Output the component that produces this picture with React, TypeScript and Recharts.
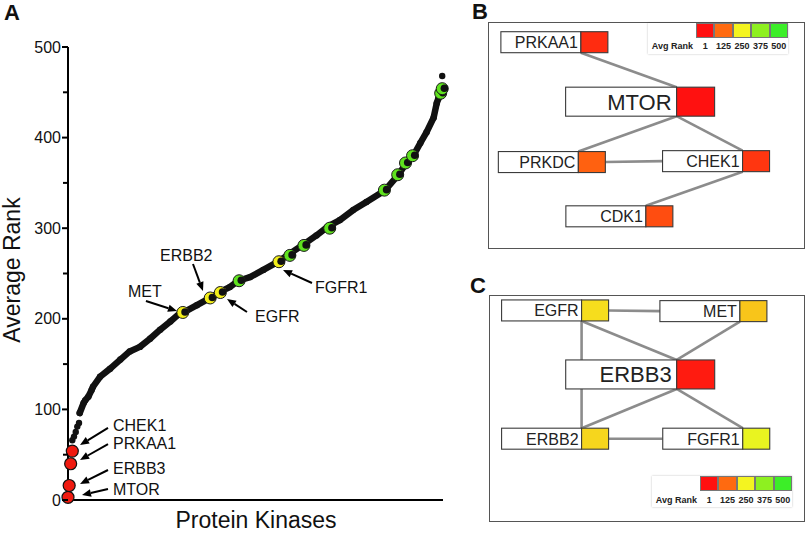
import { ScatterChart, Scatter, XAxis, YAxis, ReferenceLine } from 'recharts';

const FONT = '"Liberation Sans", Arial, Helvetica, sans-serif';

// --- panel A: kinases ordered by average rank ---
const curveIdx = [15, 20, 22, 26, 30, 32, 41, 54, 67, 79, 92, 105, 118, 131, 143, 148, 165, 182, 195, 207, 218, 233, 250, 269, 284, 303, 318, 333, 348, 365, 382, 406, 423, 433, 442, 451, 459, 468, 472, 474, 478];
const curveRank = [96, 107, 110, 114, 121, 125, 136, 145, 155, 164, 169, 178, 188, 197, 206, 207, 215, 223, 230, 235, 242, 246, 254, 263, 272, 283, 292, 302, 309, 320, 329, 342, 359, 372, 380, 394, 406, 422, 438, 443, 453];
const strayIdx = [5.5, 7.7, 9.9, 11.9, 14.1, 479];
const strayRank = [66, 70, 75, 81, 85, 468];

const topNames = ['MTOR', 'ERBB3', 'PRKAA1', 'CHEK1'];
const topIdx = [0, 1.5, 3.4, 5.5];
const topRank = [3, 16, 40, 54];

const hitIdx = [147, 182, 195, 219, 270, 284, 302, 335, 405, 422, 432, 441, 477, 479];
const hitRank = [207, 223, 229, 242, 263, 270, 281, 300, 342, 359, 372, 380, 449, 454];
const hitGroup = ['y', 'y', 'y', 'g', 'y', 'g', 'g', 'g', 'g', 'g', 'g', 'g', 'g', 'g'];

const rankTicks = [0, 50, 100, 150, 200, 250, 300, 350, 400, 450, 500];

// label anchor, arrow tail and arrow head (data units)
const notes = [
  { name: 'MET', tx: 76.8, ty: 229.6, ax: 99.8, ay: 219.6, hx: 139.5, hy: 208.6 },
  { name: 'ERBB2', tx: 117.8, ty: 270.4, ax: 160, ay: 260.5, hx: 172.8, hy: 230.7 },
  { name: 'EGFR', tx: 239.4, ty: 202, ax: 229.1, ay: 207.5, hx: 203.5, hy: 221.9 },
  { name: 'FGFR1', tx: 316.2, ty: 235, ax: 312.3, ay: 239.5, hx: 275.2, hy: 253.9 },
  { name: 'CHEK1', tx: 57.6, ty: 81.7, ax: 51.2, ay: 79.5, hx: 15.4, hy: 60.7 },
  { name: 'PRKAA1', tx: 57.6, ty: 62.9, ax: 51.2, ay: 61.8, hx: 15.4, hy: 44.2 },
  { name: 'ERBB3', tx: 57.6, ty: 35.3, ax: 51.2, ay: 33.1, hx: 15.4, hy: 17.7 },
  { name: 'MTOR', tx: 57.6, ty: 12.1, ax: 51.2, ay: 12.1, hx: 17.9, hy: 5.5 },
];

// --- panels B / C: interaction networks ---
const legendStops = [1, 125, 250, 375, 500];
const legendColors = ['#ff1010', '#ff6a10', '#f4f420', '#8ef020', '#3cee28'];

const mtorNodes = [
  { name: 'PRKAA1', rank: 40, x: 29.3, y: 8.9, hub: false },
  { name: 'MTOR', rank: 3, x: 59.5, y: 35.1, hub: true },
  { name: 'PRKDC', rank: 112, x: 28.5, y: 61.7, hub: false },
  { name: 'CHEK1', rank: 54, x: 80.3, y: 61.3, hub: false },
  { name: 'CDK1', rank: 85, x: 49.8, y: 85.6, hub: false },
];
const mtorEdges = [
  ['PRKAA1', 'MTOR', 'bottom', 'top'],
  ['MTOR', 'PRKDC', 'bottom', 'top'],
  ['MTOR', 'CHEK1', 'bottom', 'top'],
  ['PRKDC', 'CHEK1', 'right', 'left'],
  ['CHEK1', 'CDK1', 'bottom', 'top'],
];

const erbbNodes = [
  { name: 'EGFR', rank: 229, x: 29.3, y: 6.8, hub: false },
  { name: 'MET', rank: 207, x: 79.4, y: 7.1, hub: false },
  { name: 'ERBB3', rank: 16, x: 59.4, y: 35.0, hub: true },
  { name: 'ERBB2', rank: 223, x: 29.3, y: 63.3, hub: false },
  { name: 'FGFR1', rank: 263, x: 80.3, y: 63.3, hub: false },
];
const erbbEdges = [
  ['EGFR', 'MET', 'right', 'left'],
  ['EGFR', 'ERBB2', 'bottom', 'top'],
  ['EGFR', 'ERBB3', 'bottom', 'top'],
  ['MET', 'ERBB3', 'bottom', 'top'],
  ['ERBB3', 'ERBB2', 'bottom', 'top'],
  ['ERBB3', 'FGFR1', 'bottom', 'top'],
  ['ERBB2', 'FGFR1', 'right', 'left'],
];

const hexRgb = (h: string) => [1, 3, 5].map((i) => parseInt(h.slice(i, i + 2), 16));
const rankColor = (r: number) => {
  let i = 0;
  while (i < legendStops.length - 2 && r > legendStops[i + 1]) i++;
  const t = Math.min(1, Math.max(0, (r - legendStops[i]) / (legendStops[i + 1] - legendStops[i])));
  const a = hexRgb(legendColors[i]);
  const b = hexRgb(legendColors[i + 1]);
  const c = a.map((v, k) => Math.round(v + (b[k] - v) * t));
  return `rgb(${c[0]},${c[1]},${c[2]})`;
};

const RankTick = (p: any) => {
  const v = p.payload.value;
  const major = v % 100 === 0;
  return (
    <g>
      <line x1={p.x - (major ? 6 : 5)} x2={p.x} y1={p.y} y2={p.y} stroke="#000" strokeWidth={2} />
      {major && (
        <text x={p.x - 7} y={p.y} textAnchor="end" dominantBaseline="central" fontSize={16} fontFamily={FONT} fill="#111">
          {v}
        </text>
      )}
    </g>
  );
};

const Arrow = (p: any) => {
  const { x1, y1, x2, y2 } = p;
  const a = Math.atan2(y2 - y1, x2 - x1);
  const L = 9;
  const W = 3.8;
  const bx = x2 - L * Math.cos(a);
  const by = y2 - L * Math.sin(a);
  const pts = `${x2},${y2} ${bx - W * Math.sin(a)},${by + W * Math.cos(a)} ${bx + W * Math.sin(a)},${by - W * Math.cos(a)}`;
  return (
    <g>
      <line x1={x1} y1={y1} x2={bx} y2={by} stroke="#000" strokeWidth={2} />
      <polygon points={pts} fill="#000" />
    </g>
  );
};

const NoteText = (p: any) => (
  <text x={p.cx} y={p.cy} dominantBaseline="central" fontSize={16} fontFamily={FONT} fill="#111">
    {p.payload.name}
  </text>
);

const CurveDot = (p: any) => <circle cx={p.cx} cy={p.cy} r={3.2} fill="#111" />;

const HitDot = (p: any) => (
  <g>
    <circle cx={p.cx} cy={p.cy} r={6} fill={p.payload.group === 'y' ? '#f2ee1a' : '#5fe21e'} stroke="#1a1a1a" strokeWidth={1} />
    <circle cx={p.cx + 2.2} cy={p.cy - 0.5} r={3.8} fill="#111" />
  </g>
);

const TopDot = (p: any) => <circle cx={p.cx} cy={p.cy} r={6} fill="#f01a10" stroke="#111" strokeWidth={1.2} />;

const boxSize = (hub: boolean) => (hub ? { h: 29, w: 111, c: 38 } : { h: 21, w: 80, c: 27 });

const portOffset = (n: any, port: string) => {
  const s = boxSize(n.hub);
  if (port === 'top') return [0, -s.h / 2];
  if (port === 'bottom') return [0, s.h / 2];
  if (port === 'left') return [-s.w, 0];
  return [s.c, 0];
};

const NodeBox = (p: any) => {
  const n = p.payload;
  const s = boxSize(n.hub);
  return (
    <g>
      <rect x={p.cx - s.w} y={p.cy - s.h / 2} width={s.w} height={s.h} fill="#fff" stroke="#3a3a3a" strokeWidth={1.1} />
      <rect x={p.cx} y={p.cy - s.h / 2} width={s.c} height={s.h} fill={rankColor(n.rank)} stroke="#3a3a3a" strokeWidth={1.1} />
      <text x={p.cx - (n.hub ? 5 : 3)} y={p.cy + 0.5} textAnchor="end" dominantBaseline="central" fontSize={n.hub ? 22 : 16} fontFamily={FONT} fill="#222">
        {n.name}
      </text>
    </g>
  );
};

const RankKey = ({ left, top, labelTop }: { left: number; top: number; labelTop: number }) => (
  <div style={{ position: 'absolute', left, top, width: 140, height: 31, background: '#fff', boxShadow: '0 0 2px rgba(0,0,0,0.25)', fontFamily: FONT, fontSize: 9, fontWeight: 700, color: '#222' }}>
    <div style={{ position: 'absolute', right: 0, top: 0, display: 'flex' }}>
      {legendColors.map((c) => (
        <div key={c} style={{ width: 18.4, height: 15.2, background: c, boxSizing: 'border-box', border: '0.5px solid #777' }} />
      ))}
    </div>
    <div style={{ position: 'absolute', right: 0, top: labelTop, display: 'flex', lineHeight: '10px', whiteSpace: 'nowrap' }}>
      <div style={{ marginRight: 3 }}>Avg Rank</div>
      {legendStops.map((s) => (
        <div key={s} style={{ width: 18.4, textAlign: 'center' }}>{s}</div>
      ))}
    </div>
  </div>
);

const Network = ({ nodes, edges, left, top, w }: any) => {
  const byName: any = Object.fromEntries(nodes.map((n: any) => [n.name, n]));
  return (
    <div style={{ position: 'absolute', left, top, width: w, height: 227 }}>
      <div style={{ position: 'absolute', inset: 0, border: '1.5px solid #555', boxSizing: 'border-box' }} />
      <ScatterChart width={w} height={227} margin={{ top: 0, right: 0, bottom: 0, left: 0 }}>
        <XAxis type="number" dataKey="x" domain={[0, 100]} hide />
        <YAxis type="number" dataKey="y" domain={[0, 100]} reversed hide />
        {edges.map(([a, b, pa, pb]: string[]) => {
          const na = byName[a];
          const nb = byName[b];
          const o1 = portOffset(na, pa);
          const o2 = portOffset(nb, pb);
          return (
            <ReferenceLine
              key={a + b}
              segment={[{ x: na.x, y: na.y }, { x: nb.x, y: nb.y }]}
              shape={(lp: any) => (
                <line x1={lp.x1 + o1[0]} y1={lp.y1 + o1[1]} x2={lp.x2 + o2[0]} y2={lp.y2 + o2[1]} stroke="#8c8c8c" strokeWidth={2.6} />
              )}
            />
          );
        })}
        <Scatter data={nodes} shape={NodeBox} isAnimationActive={false} />
      </ScatterChart>
    </div>
  );
};

const label = (text: string, x: number, y: number, size: number, bold = false, rotate = 0) => (
  <div
    style={{
      position: 'absolute', left: x, top: y, transform: `translate(-50%, -50%) rotate(${rotate}deg)`,
      fontFamily: FONT, fontSize: size, fontWeight: bold ? 700 : 400, lineHeight: 1, whiteSpace: 'nowrap', color: '#111',
    }}
  >
    {text}
  </div>
);

export default function App() {
  const curve = curveIdx.map((x, i) => ({ x, y: curveRank[i] }));
  const stray = strayIdx.map((x, i) => ({ x, y: strayRank[i] }));
  const hits = hitIdx.map((x, i) => ({ x, y: hitRank[i], group: hitGroup[i] }));
  const tops = topIdx.map((x, i) => ({ x, y: topRank[i], name: topNames[i] }));
  const noteLabels = notes.map((n) => ({ x: n.tx, y: n.ty, name: n.name }));

  return (
    <div style={{ position: 'absolute', left: 0, top: 0, width: 807, height: 533, background: '#fff', overflow: 'hidden' }}>
      <div style={{ position: 'absolute', left: 0, top: 0 }}>
        <ScatterChart width={470} height={533} margin={{ top: 47, right: 27, bottom: 0, left: 0 }}>
          <XAxis type="number" dataKey="x" domain={[0, 480]} height={33} tick={false} tickLine={false} axisLine={{ stroke: '#000', strokeWidth: 2 }} />
          <YAxis
            type="number"
            dataKey="y"
            domain={[0, 500]}
            ticks={rankTicks}
            interval={0}
            width={68}
            tickSize={0}
            tickMargin={0}
            tickLine={false}
            axisLine={{ stroke: '#000', strokeWidth: 2 }}
            tick={<RankTick />}
          />
          {notes.map((n) => (
            <ReferenceLine key={n.name} segment={[{ x: n.ax, y: n.ay }, { x: n.hx, y: n.hy }]} shape={Arrow} />
          ))}
          <Scatter data={curve} shape={CurveDot} line={{ stroke: '#111', strokeWidth: 6.5, strokeLinejoin: 'round', strokeLinecap: 'round' }} isAnimationActive={false} />
          <Scatter data={stray} shape={CurveDot} isAnimationActive={false} />
          <Scatter data={hits} shape={HitDot} isAnimationActive={false} />
          <Scatter data={tops} shape={TopDot} isAnimationActive={false} />
          <Scatter data={noteLabels} shape={NoteText} isAnimationActive={false} />
        </ScatterChart>
      </div>
      {label('Average Rank', 12, 270, 23, false, -90)}
      {label('Protein Kinases', 256, 520, 23)}
      {label('A', 12, 13, 22, true)}
      {label('B', 480, 12, 22, true)}
      {label('C', 478, 286, 22, true)}

      <Network nodes={mtorNodes} edges={mtorEdges} left={488} top={22} w={317} />
      <RankKey left={648} top={23} labelTop={18} />

      <Network nodes={erbbNodes} edges={erbbEdges} left={489} top={295} w={316} />
      <RankKey left={652} top={476} labelTop={19} />
    </div>
  );
}
